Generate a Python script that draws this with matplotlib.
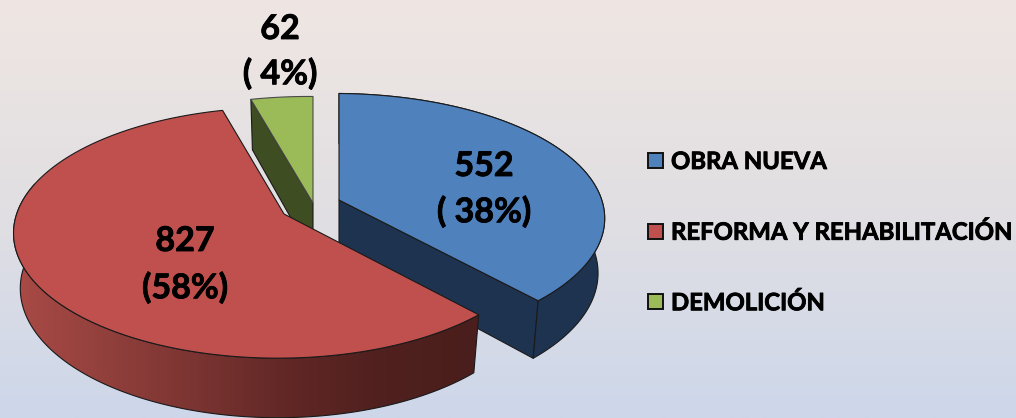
import numpy as np
import matplotlib
matplotlib.use("Agg")
import matplotlib.pyplot as plt
import matplotlib.patheffects as pe
from matplotlib.patches import Polygon, Rectangle
from matplotlib.colors import LinearSegmentedColormap

categories = ["OBRA NUEVA", "REFORMA Y REHABILITACIÓN", "DEMOLICIÓN"]
values = [552, 827, 62]
percent_labels = ["( 38%)", "(58%)", "( 4%)"]

colors = ["#4F81BD", "#C0504D", "#9BBB59"]
wall_colors = ["#1E334F", "#7A2E2C", "#3F4D22"]
apexes = [(339, 200), (284, 214), (313, 203)]
radii = [268, 262, 265]
label_pos = [(484, 166, 212), (185, 241, 288), (280, 29, 74)]
legend_y = [161.5, 232, 302.5]

W, H = 1016, 418
RY, K, J = 122.5, 0.15, 0.02
EDGE = "#1a1a1a"

plt.rcParams["font.family"] = ["Lato", "DejaVu Sans"]
fig = plt.figure(figsize=(W / 100, H / 100), dpi=100)
ax = fig.add_axes([0, 0, 1, 1])
ax.set_xlim(0, W)
ax.set_ylim(H, 0)
ax.axis("off")

bg = LinearSegmentedColormap.from_list("bg", ["#EFE6E2", "#E1DFE3", "#CDD7EA"])
ax.imshow(np.linspace(0, 1, 256)[:, None], cmap=bg, extent=(0, W, H, 0),
          aspect="auto", zorder=0)


def top(theta, i):
    u, v = np.sin(theta), np.cos(theta)
    d = 1 + K * v + J * u
    return apexes[i][0] + radii[i] * u / d, apexes[i][1] - RY * v / d


def lower(x, y, i):
    return apexes[i][0] + (x - apexes[i][0]) * 0.975, y + 54 + 0.035 * (y - 200)


def poly(xs, ys, fc, z, lw=0.8, ec=EDGE):
    p = Polygon(np.column_stack([xs, ys]), closed=True, fc=fc, ec=ec, lw=lw,
                joinstyle="round", zorder=z)
    ax.add_patch(p)
    return p


fractions = np.array(values) / sum(values)
ends = np.cumsum(fractions) * 2 * np.pi
starts = np.concatenate([[0], ends[:-1]])

# DEMOLICIÓN: far slice, only its cut wall is visible
g = 2
gx, gy = top(np.linspace(starts[g], ends[g], 30), g)
ax0, ay0 = apexes[g]
bx0, by0 = lower(ax0, ay0, g)
bx1, by1 = lower(gx[0], gy[0], g)
poly([ax0, gx[0], bx1, bx0], [ay0, gy[0], by1, by0], wall_colors[g], 2)
poly(np.r_[ax0, gx], np.r_[ay0, gy], colors[g], 3, ec="#4a4a4a")

# OBRA NUEVA
b = 0
t = np.linspace(starts[b], ends[b], 120)
tx, ty = top(t, b)
lx, ly = lower(tx, ty, b)
ax0, ay0 = apexes[b]
bx0, by0 = lower(ax0, ay0, b)
poly([ax0, tx[-1], lx[-1], bx0], [ay0, ty[-1], ly[-1], by0], wall_colors[b], 4)
poly(np.r_[tx, lx[::-1]], np.r_[ty, ly[::-1]], wall_colors[b], 4)
poly(np.r_[ax0, tx], np.r_[ay0, ty], colors[b], 5)

# REFORMA: outer wall with horizontal shading
r = 1
t = np.linspace(starts[r], ends[r], 300)
tx, ty = top(t, r)
lx, ly = lower(tx, ty, r)
vis = t < np.deg2rad(285)
wall = poly(np.r_[tx[vis], lx[vis][::-1]], np.r_[ty[vis], ly[vis][::-1]], "none", 7)
shade = LinearSegmentedColormap.from_list(
    "shade", ["#AB4B47", "#92403C", "#7A3431", "#602725", "#4F201E", "#4A1E1C"])
im = ax.imshow(np.linspace(0, 1, 512)[None, :], cmap=shade,
               extent=(10, 480, 425, 200), aspect="auto", zorder=6)
im.set_clip_path(wall)
ax.set_xlim(0, W)
ax.set_ylim(H, 0)
ax0, ay0 = apexes[r]
poly(np.r_[ax0, tx], np.r_[ay0, ty], colors[r], 8)

thick = [pe.withStroke(linewidth=0.6, foreground="black")]

# Value labels
for v, pct, (x, y1, y2) in zip(values, percent_labels, label_pos):
    for s, y in ((str(v), y1), (pct, y2)):
        ax.text(x, y, s, ha="center", va="center", fontsize=24.5,
                fontweight="bold", color="black", zorder=10, path_effects=thick)

# Legend
for name, c, y in zip(categories, colors, legend_y):
    ax.add_patch(Rectangle((648, y - 8.5), 15, 15, fc=c, ec="#111111", lw=1.4, zorder=10))
    ax.text(671, y, name, ha="left", va="center", fontsize=17.2,
            fontweight="bold", color="black", zorder=10, path_effects=thick)

fig.savefig("out.png", dpi=100)
